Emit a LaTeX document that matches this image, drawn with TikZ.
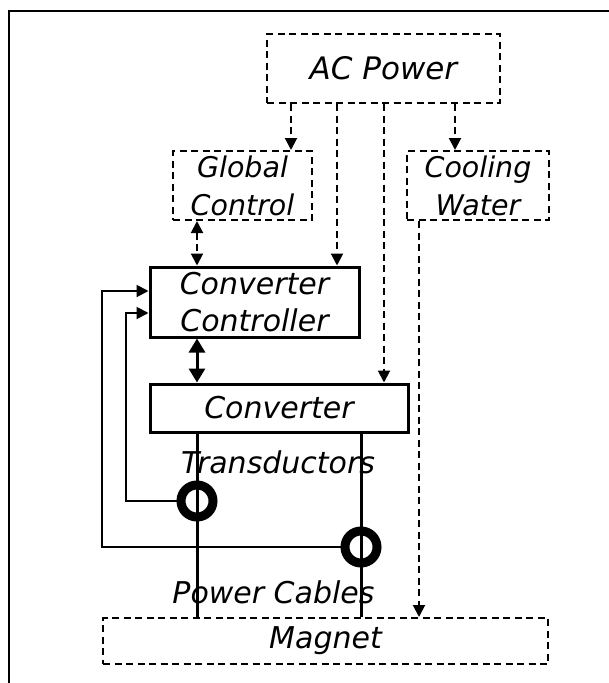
\documentclass[tikz,border=0pt]{standalone}
\usepackage{fontspec}
\setmainfont{DejaVu Sans}
\usetikzlibrary{arrows.meta, calc}

\begin{document}
\begin{tikzpicture}[x=1pt, y=-1pt, >={Triangle[length=12pt, width=12pt]},
  every node/.style={font=\fontsize{30}{37}\selectfont\itshape},
  dashbox/.style={draw, dash pattern=on 7pt off 4.5pt, line width=2pt, inner sep=0pt, align=center},
  solidbox/.style={draw, line width=3pt, inner sep=0pt, align=center},
  dashline/.style={dash pattern=on 7pt off 4.5pt, line width=2pt},
  feedline/.style={line width=2pt},
  cable/.style={line width=3pt},
  transducer/.style={circle, draw, line width=9pt, minimum size=32pt, inner sep=0pt}]
  \clip (0,0) rectangle (609,683);
  \draw[line width=2.5pt] (9,700) |- (620,11);
  % boxes
  \node[dashbox, minimum width=233pt, minimum height=69pt, font=\fontsize{31}{37}\selectfont\itshape] (acpower) at (383.5,68.5) {AC Power};
  \node[dashbox, minimum width=139pt, minimum height=69pt, font=\fontsize{28.5}{38}\selectfont\itshape] (global) at (242.5,185.5) {Global\\Control};
  \node[dashbox, minimum width=142pt, minimum height=69pt, font=\fontsize{28.5}{38}\selectfont\itshape] (cooling) at (478,185.5) {Cooling\\Water};
  \node[solidbox, minimum width=209pt, minimum height=70pt] (ctrl) at (254.5,302) {Converter\\Controller};
  \node[solidbox, minimum width=258pt, minimum height=48pt] (conv) at (279,408) {Converter};
  \node[dashbox, minimum width=445pt, minimum height=46pt] (magnet) at (325.5,641) {Magnet};
  % supply lines
  \draw[dashline, ->] ($(acpower.south)+(-92.5,0)$) -- ($(global.north)+(48.5,0)$);
  \draw[dashline, ->] ($(acpower.south)+(-46.5,0)$) -- ($(ctrl.north)+(82.5,0)$);
  \draw[dashline, ->] ($(acpower.south)+(0.5,0)$) -- ($(conv.north)+(105,0)$);
  \draw[dashline, ->] ($(acpower.south)+(71.5,0)$) -- ($(cooling.north)+(-23,0)$);
  \draw[dashline, ->] ($(cooling.south)+(-59,0)$) -- ($(magnet.north)+(93.5,0)$);
  \draw[dashline, <->] ($(global.south)+(-45.5,0)$) -- ($(ctrl.north)+(-57.5,0)$);
  \draw[cable, <->, >={Triangle[length=14pt, width=16pt]}] ($(ctrl.south)+(-57.5,0)$) -- ($(conv.north)+(-82,0)$);
  % power cables and transductors
  \draw[cable] ($(conv.south)+(-82,0)$) -- ($(magnet.north)+(-128.5,0)$);
  \draw[cable] ($(conv.south)+(82,0)$) -- ($(magnet.north)+(35.5,0)$);
  \node[transducer] (trans1) at (197,501) {};
  \node[transducer] (trans2) at (361,547) {};
  \draw[feedline, ->] (trans1.west) -| ($(ctrl.west)+(-23,11)$) -- ($(ctrl.west)+(0,11)$);
  \draw[feedline, ->] (trans2.west) -| ($(ctrl.west)+(-47,-11)$) -- ($(ctrl.west)+(0,-11)$);
  \node[anchor=base] (translabel) at (278,473) {Transductors};
  \node[anchor=base] (cablelabel) at (273.5,603) {Power Cables};
\end{tikzpicture}
\end{document}
